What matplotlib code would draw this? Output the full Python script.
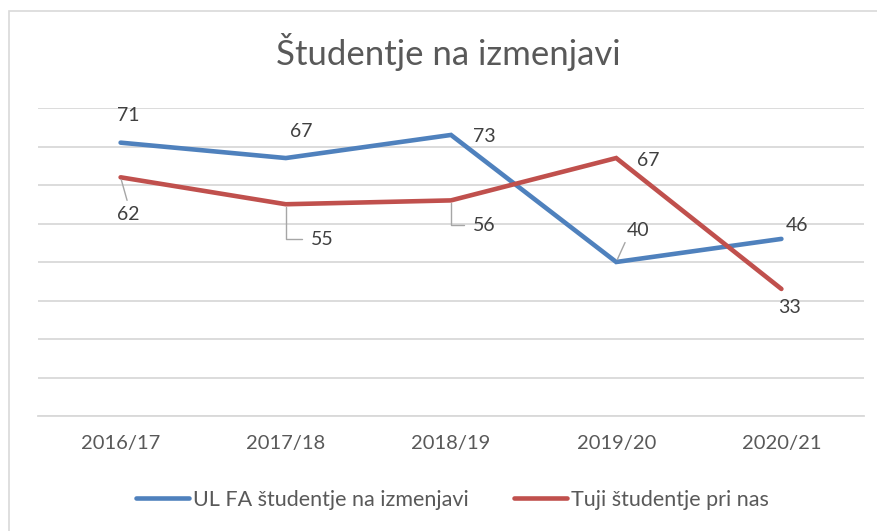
import matplotlib
matplotlib.use('Agg')
import matplotlib.pyplot as plt
from matplotlib.patches import Rectangle

plt.rcParams['font.family'] = ['Lato', 'DejaVu Sans']

years = ["2016/17", "2017/18", "2018/19", "2019/20", "2020/21"]
ul_fa = [71, 67, 73, 40, 46]
tuji = [62, 55, 56, 67, 33]

# label offsets in pixels (dx, dy) and leader line type
ul_offsets = [(8, 27), (15, 27), (33, -2), (22, 32), (16, 13)]
ul_leader = [False, False, False, True, False]
tuji_offsets = [(8, -37), (36, -35), (33, -25), (32, -2), (8, -19)]
tuji_leader = ["line", "elbow", "elbow", None, None]

blue = "#4f81bd"
red = "#c0504d"
grid_c = "#d9d9d9"
text_c = "#595959"
label_c = "#404040"

fig = plt.figure(figsize=(8.77, 5.31), dpi=100)
fig.patches.append(Rectangle((9 / 877, -0.1), 2, (531 - 11) / 531 + 0.1,
                             transform=fig.transFigure, fill=False,
                             edgecolor="#d9d9d9", lw=1.2))
ax = fig.add_axes([38 / 877, 1 - 416 / 531, 826 / 877, (416 - 108) / 531])

x = range(len(years))
ax.plot(x, ul_fa, color=blue, lw=3.3, solid_capstyle="round",
        solid_joinstyle="miter", label="UL FA študentje na izmenjavi", zorder=3)
ax.plot(x, tuji, color=red, lw=3.3, solid_capstyle="round",
        solid_joinstyle="miter", label="Tuji študentje pri nas", zorder=3)

ax.set_xlim(-0.5, len(years) - 0.5)
ax.set_ylim(0, 80)
ax.set_yticks(range(0, 81, 10))
ax.yaxis.grid(True, color=grid_c, lw=1.3)
ax.set_axisbelow(True)
ax.set_yticklabels([])
ax.tick_params(axis="y", length=0)
ax.set_xticks(list(x))
ax.set_xticklabels(years, fontsize=14.5, color=text_c)
ax.tick_params(axis="x", length=0, pad=14)
for s in ["top", "right", "left"]:
    ax.spines[s].set_visible(False)
ax.spines["bottom"].set_color(grid_c)
ax.spines["bottom"].set_linewidth(1.3)

for i, v in enumerate(ul_fa):
    dx, dy = ul_offsets[i]
    ap = None
    if ul_leader[i]:
        ap = dict(arrowstyle="-", color="#a6a6a6", lw=1, shrinkA=1, shrinkB=2,
                  relpos=(0.0, 0.0))
    ax.annotate(str(v), (i, v), xytext=(dx, dy), textcoords="offset pixels",
                ha="center", va="center", fontsize=14, color=label_c,
                arrowprops=ap)

for i, v in enumerate(tuji):
    dx, dy = tuji_offsets[i]
    ap = None
    if tuji_leader[i] == "line":
        ap = dict(arrowstyle="-", color="#a6a6a6", lw=1, shrinkA=2, shrinkB=2,
                  relpos=(0.5, 1.0))
    elif tuji_leader[i] == "elbow":
        ap = dict(arrowstyle="-", color="#a6a6a6", lw=1, shrinkA=4, shrinkB=2,
                  relpos=(0.0, 0.5),
                  connectionstyle="angle,angleA=180,angleB=90,rad=0")
    ax.annotate(str(v), (i, v), xytext=(dx, dy), textcoords="offset pixels",
                ha="center", va="center", fontsize=14, color=label_c,
                arrowprops=ap)

fig.text(448 / 877, 1 - 52 / 531, "Študentje na izmenjavi", ha="center",
         va="center", fontsize=25, color=text_c)

fig.legend(loc="center", bbox_to_anchor=(452 / 877, 1 - 500 / 531), ncol=2,
           frameon=False, fontsize=15.5, labelcolor=text_c, handlelength=2.5,
           handletextpad=0.15, columnspacing=2.1)

fig.savefig("out.png", dpi=100, facecolor="white")
